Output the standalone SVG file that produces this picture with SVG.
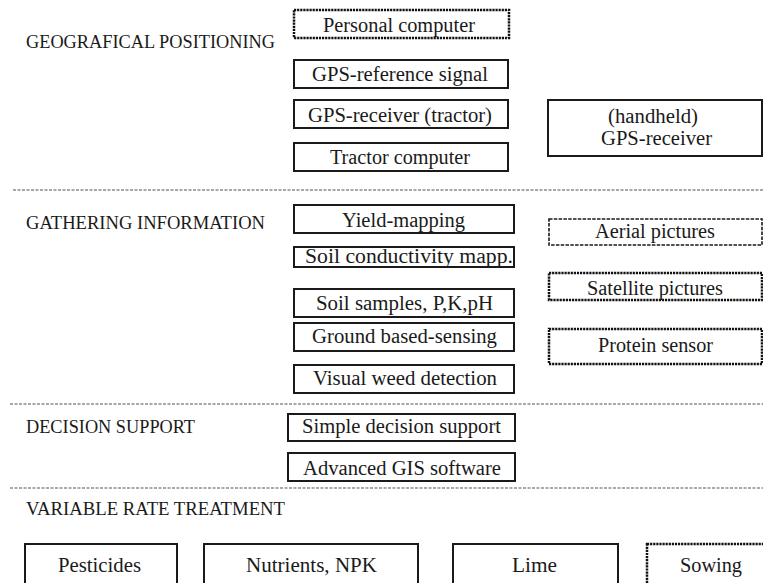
<svg xmlns="http://www.w3.org/2000/svg" width="763" height="583" viewBox="0 0 763 583">
<style>
text{font-family:"Liberation Serif","Times New Roman","DejaVu Serif",serif;fill:#1a1a1a}
.lbl{font-size:18px}
.t{font-size:20px}
.box{fill:#fff;stroke:#1a1a1a;stroke-width:2}
.dot{fill:#fff;stroke:#111;stroke-width:2.5;stroke-dasharray:2.2 0.9}
.dash{fill:#fff;stroke:#1a1a1a;stroke-width:1.6;stroke-dasharray:3.5 1.3}
.sep{stroke:#a8a8a8;stroke-width:2;stroke-dasharray:3 1.5;fill:none}
</style>
<rect width="763" height="583" fill="#fff"/>
<g id="separators">
<line class="sep" x1="13" y1="190" x2="763" y2="190"/>
<line class="sep" x1="10" y1="404" x2="763" y2="404"/>
<line class="sep" x1="10" y1="488" x2="763" y2="488"/>
</g>
<g id="section-labels">
<text class="lbl" x="26" y="48" textLength="249" lengthAdjust="spacingAndGlyphs">GEOGRAFICAL POSITIONING</text>
<text class="lbl" x="26" y="229" textLength="239" lengthAdjust="spacingAndGlyphs">GATHERING INFORMATION</text>
<text class="lbl" x="26" y="433" textLength="169" lengthAdjust="spacingAndGlyphs">DECISION SUPPORT</text>
<text class="lbl" x="26" y="515" textLength="259" lengthAdjust="spacingAndGlyphs">VARIABLE RATE TREATMENT</text>
</g>
<g id="personal-computer"><rect class="dot" x="294" y="10" width="215" height="28"/><text class="t" x="323" y="32" textLength="152" lengthAdjust="spacingAndGlyphs">Personal computer</text></g>
<g id="gps-reference"><rect class="box" x="294" y="60" width="214" height="28"/><text class="t" x="312" y="81" textLength="176" lengthAdjust="spacingAndGlyphs">GPS-reference signal</text></g>
<g id="gps-receiver-tractor"><rect class="box" x="294" y="100" width="214" height="28"/><text class="t" x="308" y="122" textLength="184" lengthAdjust="spacingAndGlyphs">GPS-receiver (tractor)</text></g>
<g id="tractor-computer"><rect class="box" x="294" y="143" width="214" height="28"/><text class="t" x="330" y="164" textLength="140" lengthAdjust="spacingAndGlyphs">Tractor computer</text></g>
<g id="handheld-gps"><rect class="box" x="548" y="100" width="214" height="56"/><text class="t" x="608" y="123" textLength="90" lengthAdjust="spacingAndGlyphs">(handheld)</text><text class="t" x="601" y="145" textLength="111" lengthAdjust="spacingAndGlyphs">GPS-receiver</text></g>
<g id="yield-mapping"><rect class="box" x="294" y="205" width="220" height="28"/><text class="t" x="342" y="227" textLength="123" lengthAdjust="spacingAndGlyphs">Yield-mapping</text></g>
<g id="soil-conductivity"><rect class="box" x="294" y="247" width="220" height="20"/><text class="t" x="305" y="263" textLength="208" lengthAdjust="spacingAndGlyphs">Soil conductivity mapp.</text></g>
<g id="soil-samples"><rect class="box" x="294" y="289" width="220" height="28"/><text class="t" x="316" y="310" textLength="177" lengthAdjust="spacingAndGlyphs">Soil samples, P,K,pH</text></g>
<g id="ground-sensing"><rect class="box" x="294" y="323" width="220" height="28"/><text class="t" x="312" y="343" textLength="185" lengthAdjust="spacingAndGlyphs">Ground based-sensing</text></g>
<g id="visual-weed"><rect class="box" x="294" y="365" width="220" height="28"/><text class="t" x="313" y="385" textLength="184" lengthAdjust="spacingAndGlyphs">Visual weed detection</text></g>
<g id="aerial-pictures"><rect class="dash" x="549" y="219" width="213" height="26"/><text class="t" x="595" y="238" textLength="120" lengthAdjust="spacingAndGlyphs">Aerial pictures</text></g>
<g id="satellite-pictures"><rect class="dot" x="549" y="273" width="213" height="27"/><text class="t" x="587" y="295" textLength="136" lengthAdjust="spacingAndGlyphs">Satellite pictures</text></g>
<g id="protein-sensor"><rect class="dot" x="549" y="329" width="213" height="35"/><text class="t" x="598" y="352" textLength="115" lengthAdjust="spacingAndGlyphs">Protein sensor</text></g>
<g id="simple-decision"><rect class="box" x="288" y="414" width="227" height="27"/><text class="t" x="302" y="433" textLength="199" lengthAdjust="spacingAndGlyphs">Simple decision support</text></g>
<g id="advanced-gis"><rect class="box" x="288" y="453" width="227" height="28"/><text class="t" x="303" y="475" textLength="198" lengthAdjust="spacingAndGlyphs">Advanced GIS software</text></g>
<g id="pesticides"><rect class="box" x="25" y="544" width="152" height="60"/><text class="t" x="58" y="572" textLength="83" lengthAdjust="spacingAndGlyphs">Pesticides</text></g>
<g id="nutrients"><rect class="box" x="204" y="544" width="214" height="60"/><text class="t" x="246" y="572" textLength="131" lengthAdjust="spacingAndGlyphs">Nutrients, NPK</text></g>
<g id="lime"><rect class="box" x="453" y="544" width="165" height="60"/><text class="t" x="512" y="572" textLength="45" lengthAdjust="spacingAndGlyphs">Lime</text></g>
<g id="sowing"><rect class="dot" x="647" y="544" width="130" height="60"/><text class="t" x="680" y="572" textLength="62" lengthAdjust="spacingAndGlyphs">Sowing</text></g>
<g id="connectors"></g>
</svg>
